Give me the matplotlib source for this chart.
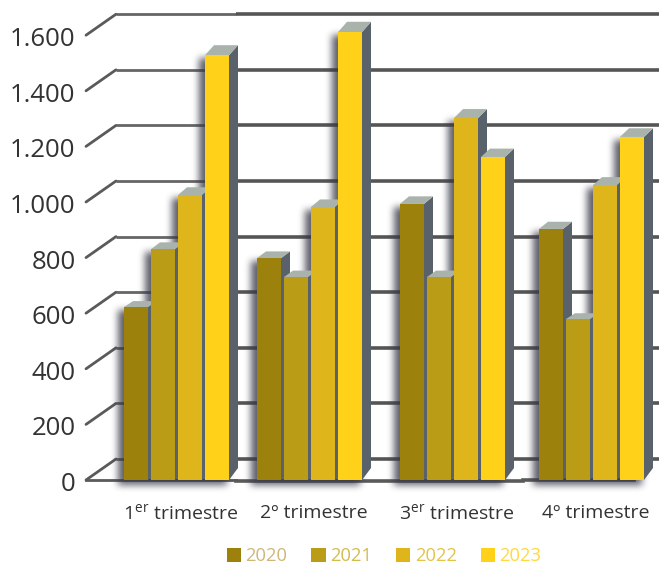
import numpy as np
import matplotlib
matplotlib.use("Agg")
import matplotlib.pyplot as plt
from matplotlib.patches import Polygon, Rectangle, Patch
from matplotlib.transforms import ScaledTranslation

plt.rcParams['font.family'] = ['Open Sans', 'DejaVu Sans']
plt.rcParams['mathtext.fontset'] = 'custom'
plt.rcParams['mathtext.rm'] = 'Open Sans'

quarters = [r"1$^{\mathrm{er}}$ trimestre", "2º trimestre", r"3$^{\mathrm{er}}$ trimestre", "4º trimestre"]
years = ["2020", "2021", "2022", "2023"]
v2020 = [622, 798, 993, 903]
v2021 = [830, 730, 730, 579]
v2022 = [1025, 982, 1302, 1061]
v2023 = [1528, 1611, 1162, 1234]
series = [v2020, v2021, v2022, v2023]
yticks = [0, 200, 400, 600, 800, 1000, 1200, 1400, 1600]
yticklabels = ["0", "200", "400", "600", "800", "1.000", "1.200", "1.400", "1.600"]

colors = ["#9C810D", "#BB9C16", "#DEB61C", "#FFD118"]
legend_text = ["#CDB877", "#D2BC50", "#E4C445", "#FFD93F"]
group_left = [124, 257, 400, 539]
W, H = 659, 566
PX = 0.278          # pixels per value unit
Y0 = 480            # pixel row of the value 0
bw, step = 24, 27
dx = 9
floor_dy = 12 / PX

fig = plt.figure(figsize=(W / 100, H / 100), dpi=100)
ax = fig.add_axes([0, (H - Y0) / H, 1, Y0 / H])
ax.set_xlim(0, W)
ax.set_ylim(0, Y0 / PX)
ax.patch.set_visible(False)
for s in ax.spines.values():
    s.set_visible(False)

# gridlines with perspective stubs
grid_c = "#555555"
gx0, gx1, gx2 = 86, 116, 236
gdy = 21 / PX
for i, t in enumerate(yticks):
    ax.plot([gx0, gx1], [t, t + gdy], color="#5a5a5a", lw=2.0, zorder=1, solid_capstyle='round', clip_on=False)
    ax.plot([gx1, gx2], [t + gdy, t + gdy], color="#666666", lw=2.0, zorder=1, solid_capstyle='butt', clip_on=False)
    ax.plot([gx2, W], [t + gdy, t + gdy], color=grid_c, lw=2.6, zorder=1, solid_capstyle='butt', clip_on=False)
# floor front edge
ax.plot([gx0, 236], [0, 0], color="#5a5a5a", lw=2.0, zorder=1, clip_on=False)
ax.plot([236, 523], [-3, -3], color="#5a5a5a", lw=2.6, zorder=1, clip_on=False)
ax.plot([523, 634], [0, 0], color="#5a5a5a", lw=2.6, zorder=1, clip_on=False)

# soft drop shadow computed from the bars
mask = np.zeros((H, W))
for g, left in enumerate(group_left):
    for k, vals in enumerate(series):
        x = left + k * step
        top = int(round(Y0 - vals[g] * PX))
        mask[top + 3:Y0 + 5, x - 6:x + bw - 2] = 1
def blur(a, r, axis):
    ker = np.ones(2 * r + 1) / (2 * r + 1)
    return np.apply_along_axis(lambda m: np.convolve(m, ker, mode='same'), axis, a)
for _ in range(3):
    mask = blur(blur(mask, 3, 0), 3, 1)
rgba = np.zeros((H, W, 4))
rgba[..., :3] = (0.22, 0.22, 0.28)
rgba[..., 3] = mask * 0.8
ax.imshow(rgba, extent=(0, W, (Y0 - H) / PX, Y0 / PX), origin='upper', aspect='auto',
          zorder=2, clip_on=False, interpolation='nearest')
ax.set_xlim(0, W)
ax.set_ylim(0, Y0 / PX)

# 3-D bars
for g, left in enumerate(group_left):
    for k, vals in enumerate(series):
        x = left + k * step
        v = vals[g]
        cap = (3.2 + 0.016 * v * PX) / PX   # cap depth grows with height
        ax.add_patch(Polygon([(x + bw, 0), (x + bw + dx, floor_dy), (x + bw + dx, v + cap), (x + bw, v)],
                             closed=True, fc="#59626A", ec="none", zorder=3 + k, clip_on=False))
        ax.add_patch(Polygon([(x, v), (x + dx, v + cap), (x + bw + dx, v + cap), (x + bw, v)],
                             closed=True, fc="#A9B3AB", ec="none", zorder=3 + k, clip_on=False))
        ax.add_patch(Rectangle((x, 0), bw, v, fc=colors[k], ec="none", zorder=3 + k, clip_on=False))

ax.set_yticks(yticks)
ax.set_yticklabels(yticklabels, fontsize=18.5, color="#333333")
ax.tick_params(axis='y', length=0, pad=-54.5)
shift = ScaledTranslation(0, -1.5 / 100, fig.dpi_scale_trans)
for lab in ax.get_yticklabels():
    lab.set_transform(lab.get_transform() + shift)
centers = [l + (3 * step + bw + dx) / 2 for l in group_left]
ax.set_xticks(centers)
ax.set_xticklabels(quarters, fontsize=14, color="#333333")
ax.tick_params(axis='x', length=0, pad=17)

handles = [Patch(fc=c, ec="none") for c in colors]
leg = ax.legend(handles, years, ncol=4, frameon=False, fontsize=13.2, labelcolor=legend_text,
                loc='center', bbox_to_anchor=(384, (Y0 - 556) / PX), bbox_transform=ax.transData,
                handlelength=0.78, handleheight=0.78, handletextpad=0.25, columnspacing=1.3,
                borderpad=0, borderaxespad=0)

fig.savefig("out.png", dpi=100)
